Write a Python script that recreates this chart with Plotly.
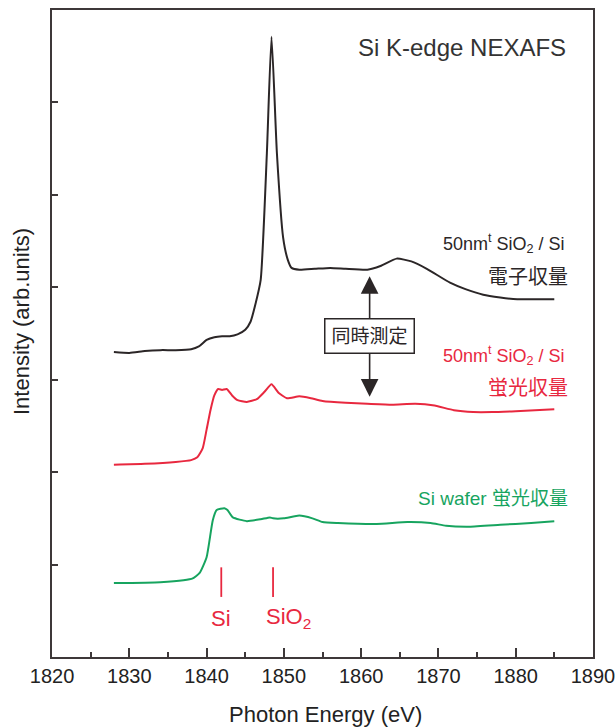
import plotly.graph_objects as go

# Electron-yield spectrum, 50 nm SiO2 on Si
energy_ey = [1828, 1830, 1832, 1834, 1836, 1838, 1839, 1840, 1841, 1842, 1843, 1844,
             1845, 1845.7, 1846.3, 1847.0, 1847.8, 1848.4, 1849.1, 1849.9, 1850.5,
             1851.0, 1852, 1854, 1856, 1858, 1860.8, 1862.5, 1864.6, 1866.5, 1868.5,
             1871.5, 1873.5, 1875.8, 1878, 1880.2, 1882.5, 1885]
ey_sio2 = [3.30, 3.29, 3.31, 3.32, 3.32, 3.33, 3.36, 3.43, 3.46, 3.47, 3.47, 3.49,
           3.54, 3.63, 3.81, 4.08, 5.45, 6.71, 5.45, 4.54, 4.30,
           4.21, 4.19, 4.20, 4.21, 4.20, 4.19, 4.23, 4.31, 4.28, 4.20,
           4.05, 3.98, 3.92, 3.89, 3.87, 3.87, 3.87]

# Fluorescence-yield spectrum, 50 nm SiO2 on Si (measured simultaneously)
energy_fy = [1828, 1832, 1836, 1838, 1838.8, 1839.5, 1840.0, 1840.5, 1841.0, 1841.5,
             1842.0, 1842.6, 1843.3, 1844.0, 1845.2, 1846.5, 1847.5, 1848.4, 1849.3,
             1850.4, 1852.0, 1853.5, 1855, 1858, 1860.8, 1864, 1867, 1869.5, 1872,
             1874.5, 1877, 1880, 1885]
fy_sio2 = [2.08, 2.09, 2.11, 2.13, 2.16, 2.26, 2.46, 2.67, 2.83, 2.90,
           2.89, 2.90, 2.83, 2.78, 2.76, 2.79, 2.87, 2.95, 2.86,
           2.80, 2.82, 2.80, 2.77, 2.75, 2.74, 2.73, 2.74, 2.72, 2.67,
           2.65, 2.65, 2.66, 2.68]

# Fluorescence-yield spectrum, bare Si wafer
energy_wafer = [1828, 1834, 1837, 1838.2, 1839.1, 1840.0, 1840.8, 1841.3, 1842.3,
                1842.7, 1843.4, 1845.2, 1847, 1848.2, 1848.6, 1850, 1852.0, 1853.7,
                1855, 1857, 1862, 1866, 1869, 1871, 1874, 1878, 1882, 1885]
fy_wafer = [0.80, 0.81, 0.83, 0.85, 0.91, 1.08, 1.48, 1.59, 1.61,
            1.59, 1.51, 1.47, 1.49, 1.51, 1.50, 1.50, 1.53, 1.50,
            1.46, 1.45, 1.44, 1.46, 1.45, 1.42, 1.41, 1.43, 1.45, 1.47]

# Reference edge positions
ref_energies = [1841.9, 1848.6]
ref_labels = ["Si", "SiO<sub>2</sub>"]

x_ticks = [1820, 1830, 1840, 1850, 1860, 1870, 1880, 1890]
y_ticks = [1, 2, 3, 4, 5, 6]

BLACK = "#2b2627"
RED = "#e8283f"
GREEN = "#17a45f"
FRAME = "#3d3839"
FONT = "Liberation Sans, Arial, Noto Sans CJK JP, sans-serif"

fig = go.Figure()
for xs, ys, col in [(energy_ey, ey_sio2, BLACK),
                    (energy_fy, fy_sio2, RED),
                    (energy_wafer, fy_wafer, GREEN)]:
    fig.add_trace(go.Scatter(x=xs, y=ys, mode="lines",
                             line=dict(color=col, width=2, shape="spline", smoothing=0.5),
                             showlegend=False, hoverinfo="skip"))

# Reference markers for Si and SiO2 edges
for e, lab, shift in zip(ref_energies, ref_labels, [0, 15]):
    fig.add_shape(type="line", xref="x", yref="y", x0=e, x1=e, y0=0.65, y1=0.97,
                  line=dict(color=RED, width=1.8))
    fig.add_annotation(x=e, y=0.42, xref="x", yref="y", text=lab, showarrow=False,
                       xshift=shift, xanchor="center", yanchor="middle",
                       font=dict(family=FONT, size=22, color=RED))

# Double-headed arrow linking simultaneous measurements
fig.add_annotation(x=1861.1, y=4.12, ax=1861.1, ay=2.80, xref="x", yref="y",
                   axref="x", ayref="y", text="", showarrow=True,
                   arrowhead=2, startarrowhead=2, arrowside="end+start",
                   arrowsize=2.2, startarrowsize=2.2, arrowwidth=1.6, arrowcolor=BLACK)
fig.add_annotation(x=1861.1, y=3.47, xref="x", yref="y", text="同時測定",
                   showarrow=False, bgcolor="white", bordercolor=BLACK, borderwidth=1.5,
                   borderpad=6, font=dict(family=FONT, size=19, color=BLACK))

def px_y(py):
    return (657 - py) / 647

def px_x(px):
    return (px - 52) / 541

labels = [
    ("Si K-edge NEXAFS", 568, 48, "#333333", 24),
    ("50nm<sup>t</sup> SiO<sub>2</sub> / Si", 567, 243, BLACK, 18),
    ("電子収量", 570, 277, BLACK, 20),
    ("50nm<sup>t</sup> SiO<sub>2</sub> / Si", 567, 355, RED, 18),
    ("蛍光収量", 570, 388, RED, 20),
    ("Si wafer 蛍光収量", 570, 498, GREEN, 19),
]
for text, px, py, col, size in labels:
    fig.add_annotation(x=px_x(px), y=px_y(py), xref="paper", yref="paper",
                       xanchor="right", yanchor="middle", text=text, showarrow=False,
                       font=dict(family=FONT, size=size, color=col))

# Axis titles
fig.add_annotation(x=px_x(325), y=px_y(714), xref="paper", yref="paper",
                   xanchor="center", yanchor="middle",
                   text="Photon Energy (eV)", showarrow=False,
                   font=dict(family=FONT, size=22, color="#222222"))
fig.add_annotation(x=px_x(21), y=px_y(322), xref="paper", yref="paper",
                   xanchor="center", yanchor="middle",
                   text="Intensity (arb.units)", textangle=-90, showarrow=False,
                   font=dict(family=FONT, size=22, color="#222222"))

fig.update_xaxes(range=[1819.99, 1890.01], tickvals=x_ticks, ticks="inside", ticklen=9,
                 tickwidth=1.5, tickcolor=FRAME, showline=True, linecolor=FRAME,
                 linewidth=2, mirror=True, showgrid=False, zeroline=False,
                 ticklabeloverflow="allow", automargin=False,
                 tickfont=dict(family=FONT, size=20, color="#222222"),
                 minor=dict(dtick=5, tick0=1825, ticks="inside", ticklen=5,
                            tickwidth=1.5, tickcolor=FRAME, showgrid=False))
fig.update_yaxes(range=[0, 7], tickvals=y_ticks, ticks="inside", ticklen=6,
                 tickwidth=1.5, tickcolor=FRAME, showticklabels=False, showline=True,
                 linecolor=FRAME, linewidth=2, mirror=True, showgrid=False,
                 zeroline=False, automargin=False)

fig.update_layout(width=615, height=727, margin=dict(l=52, r=22, t=10, b=70),
                  plot_bgcolor="white", paper_bgcolor="white")

fig.write_html("out.html")
